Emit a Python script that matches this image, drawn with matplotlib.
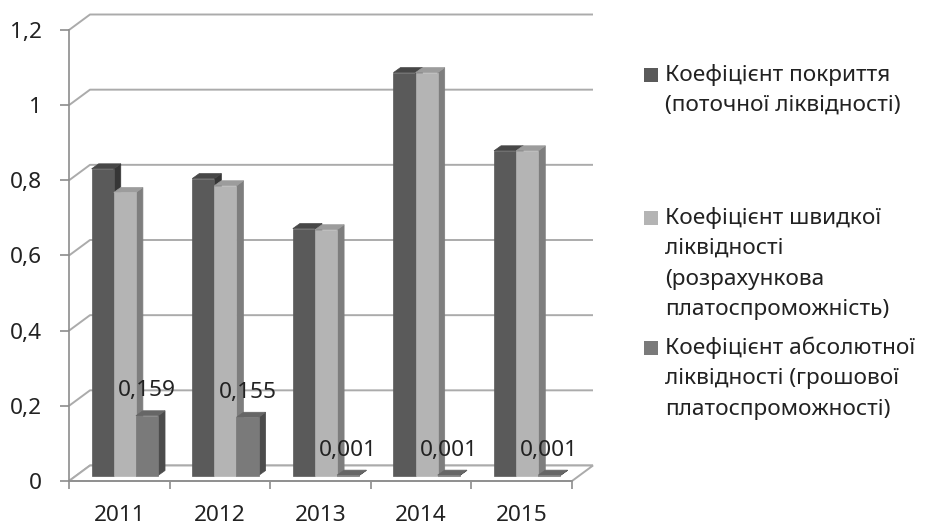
import matplotlib
matplotlib.use("Agg")
import matplotlib.pyplot as plt
from matplotlib.patches import Polygon, Rectangle

# ---- data -------------------------------------------------------------
years = ["2011", "2012", "2013", "2014", "2015"]
current_ratio = [0.816, 0.790, 0.657, 1.072, 0.864]
quick_ratio = [0.753, 0.771, 0.654, 1.072, 0.864]
cash_ratio = [0.159, 0.155, 0.001, 0.001, 0.001]
series_names = [
    "Коефіцієнт покриття\n(поточної ліквідності)",
    "Коефіцієнт швидкої\nліквідності\n(розрахункова\nплатоспроможність)",
    "Коефіцієнт абсолютної\nліквідності (грошової\nплатоспроможності)",
]
y_ticks = [0, 0.2, 0.4, 0.6, 0.8, 1.0, 1.2]
y_tick_labels = ["0", "0,2", "0,4", "0,6", "0,8", "1", "1,2"]

# ---- styling ----------------------------------------------------------
plt.rcParams["font.family"] = ["Noto Sans", "DejaVu Sans"]
FS = 16.3
TEXT_C = "#222222"
AXIS_C = "#8c8c8c"
GRID_C = "#ababab"
# (front, top, side) shades for each series
shades = [
    ("#5a5a5a", "#474747", "#363636"),
    ("#b4b4b4", "#9c9c9c", "#7e7e7e"),
    ("#7a7a7a", "#666666", "#4c4c4c"),
]

W, H, DPI = 926, 525, 100
fig = plt.figure(figsize=(W / DPI, H / DPI), dpi=DPI)

# front plane of the plot area in pixels
PX0, PX1, PY0, PY1 = 69, 572, 481, 30
ax = fig.add_axes([PX0 / W, (H - PY0) / H, (PX1 - PX0) / W, (PY0 - PY1) / H])
n = len(years)
ymax = y_ticks[-1]
ax.set_xlim(0, n)
ax.set_ylim(0, ymax)
ux = n / (PX1 - PX0)       # data units per pixel, horizontal
uy = ymax / (PY0 - PY1)    # data units per pixel, vertical

wall_dx, wall_dy = 21 * ux, 15.5 * uy   # depth of the floor / side wall
plane_dy = 5.5 * uy                      # bars sit mid-depth
bar_dx, bar_dy = 7 * ux, 5 * uy          # thickness of each column
bar_w = 0.22
bar_off = 0.225

# side wall diagonals + back wall gridlines
for v in y_ticks:
    ax.plot([0, wall_dx, n + wall_dx], [v, v + wall_dy, v + wall_dy],
            color=GRID_C, lw=1.4, clip_on=False, zorder=1,
            solid_capstyle="butt")

# floor
ax.add_patch(Polygon([(0, 0), (n, 0), (n + wall_dx, wall_dy), (wall_dx, wall_dy)],
                     closed=True, facecolor="white", edgecolor=GRID_C,
                     lw=1.4, clip_on=False, zorder=2))

# columns
series = [current_ratio, quick_ratio, cash_ratio]
z = 3
for i in range(n):
    for j, vals in enumerate(series):
        v = vals[i]
        front_c, top_c, side_c = shades[j]
        x0 = i + bar_off + j * bar_w
        x1 = x0 + bar_w
        y0 = plane_dy
        y1 = v + plane_dy
        side = [(x1, y0), (x1 + bar_dx, y0 + bar_dy),
                (x1 + bar_dx, y1 + bar_dy), (x1, y1)]
        top = [(x0, y1), (x1, y1), (x1 + bar_dx, y1 + bar_dy), (x0 + bar_dx, y1 + bar_dy)]
        front = [(x0, y0), (x1, y0), (x1, y1), (x0, y1)]
        ax.add_patch(Polygon(side, closed=True, facecolor=side_c, edgecolor=side_c,
                             lw=0.5, clip_on=False, zorder=z))
        ax.add_patch(Polygon(top, closed=True, facecolor=top_c, edgecolor=top_c,
                             lw=0.5, clip_on=False, zorder=z))
        ax.add_patch(Polygon(front, closed=True, facecolor=front_c, edgecolor=front_c,
                             lw=0.5, clip_on=False, zorder=z + 0.5))
        z += 1

# value labels for the cash ratio
for i, v in enumerate(cash_ratio):
    xc = i + bar_off + 2 * bar_w + bar_w / 2
    ax.annotate(f"{v:.3f}".replace(".", ","), (xc, v + plane_dy),
                xytext=(0, 18), textcoords="offset points",
                ha="center", va="center", fontsize=FS, color=TEXT_C,
                zorder=100, annotation_clip=False)

# axes
for s in ("top", "right"):
    ax.spines[s].set_visible(False)
for s in ("left", "bottom"):
    ax.spines[s].set_color(AXIS_C)
    ax.spines[s].set_linewidth(1.2)
    ax.spines[s].set_zorder(50)
ax.patch.set_visible(False)

ax.set_yticks(y_ticks)
ax.set_yticklabels(y_tick_labels)
ax.tick_params(axis="y", direction="out", length=6.5, width=1.2, color=AXIS_C,
               pad=13, labelsize=FS, labelcolor=TEXT_C)

ax.set_xticks(range(n + 1))
ax.set_xticklabels([])
ax.set_xticks([i + 0.5 for i in range(n)], minor=True)
ax.set_xticklabels(years, minor=True)
ax.tick_params(axis="x", which="major", direction="out", length=5.5, width=1.2,
               color=AXIS_C)
ax.tick_params(axis="x", which="minor", length=0, pad=17.5, labelsize=FS,
               labelcolor=TEXT_C)

# legend, laid out in pixel coordinates
lg = fig.add_axes([0, 0, 1, 1])
lg.set_xlim(0, W)
lg.set_ylim(H, 0)
lg.axis("off")
lg.patch.set_visible(False)
legend_y = [75, 218, 348]
line_h = 30.5
for name, y, (front_c, _, _) in zip(series_names, legend_y, shades):
    lg.add_patch(Rectangle((644, y - 7), 14, 14, facecolor=front_c, edgecolor="none"))
    for k, line in enumerate(name.split("\n")):
        lg.text(665, y + k * line_h, line, ha="left", va="center",
                fontsize=FS, color=TEXT_C)

fig.savefig("out.png", dpi=DPI)
